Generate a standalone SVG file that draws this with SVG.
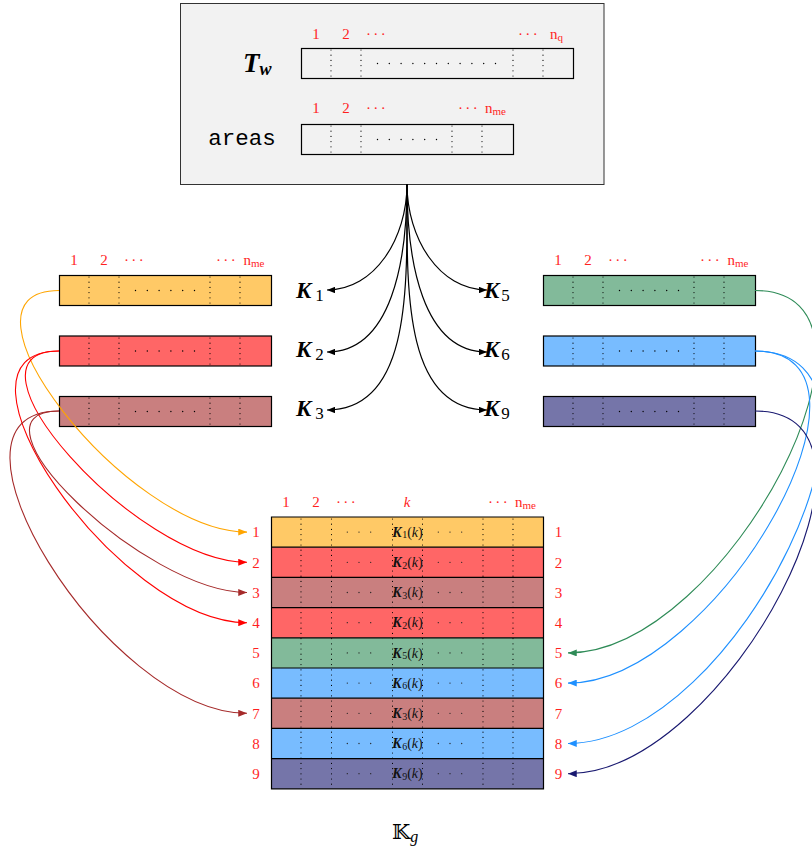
<svg xmlns="http://www.w3.org/2000/svg" width="812" height="852" viewBox="0 0 812 852">
<style>
.lbl{font-family:"Liberation Serif",serif;font-size:15px;fill:#ff1f1f;text-anchor:middle}
.nl{font-family:"Liberation Serif",serif;font-size:15px;fill:#ff1f1f;text-anchor:start}
.cd{letter-spacing:2.4px}
.sub{font-size:11px}
.bar{stroke:#000;stroke-width:1.2}
.vd{stroke:#000;stroke-width:1.2;stroke-dasharray:0 5.2;stroke-linecap:round;fill:none}
.hd{stroke:#000;stroke-width:1.4;stroke-dasharray:0 11.8;stroke-linecap:round;fill:none}
.td{stroke:#222;stroke-width:1.3;stroke-dasharray:0 11.7;stroke-linecap:round;fill:none}
.kl{font-family:"Liberation Serif",serif;font-size:23px;font-weight:bold;font-style:italic;fill:#000}
.ks{font-size:17px;font-weight:normal;font-style:normal}
.kt{font-family:"Liberation Serif",serif;font-size:14px;fill:#111;text-anchor:middle}
.c{fill:none;stroke-width:1.1}
.yel{fill:#ffc966}.red{fill:#ff6666}.brn{fill:#c97f7f}.grn{fill:#82ba9a}.blu{fill:#78bcff}.pur{fill:#7575a9}
</style>
<defs>
<marker id="mk" viewBox="0 0 10 8" refX="10" refY="4" markerWidth="8" markerHeight="6.4" orient="auto" markerUnits="userSpaceOnUse"><path d="M0,0 L10,4 L0,8 Z" fill="#000"/></marker>
<marker id="mo" viewBox="0 0 10 8" refX="10" refY="4" markerWidth="9" markerHeight="7" orient="auto" markerUnits="userSpaceOnUse"><path d="M0,0 L10,4 L0,8 Z" fill="#ffa500"/></marker>
<marker id="mr" viewBox="0 0 10 8" refX="10" refY="4" markerWidth="9" markerHeight="7" orient="auto" markerUnits="userSpaceOnUse"><path d="M0,0 L10,4 L0,8 Z" fill="#ff0000"/></marker>
<marker id="mb" viewBox="0 0 10 8" refX="10" refY="4" markerWidth="9" markerHeight="7" orient="auto" markerUnits="userSpaceOnUse"><path d="M0,0 L10,4 L0,8 Z" fill="#a52a2a"/></marker>
<marker id="mg" viewBox="0 0 10 8" refX="10" refY="4" markerWidth="9" markerHeight="7" orient="auto" markerUnits="userSpaceOnUse"><path d="M0,0 L10,4 L0,8 Z" fill="#2e8b57"/></marker>
<marker id="md" viewBox="0 0 10 8" refX="10" refY="4" markerWidth="9" markerHeight="7" orient="auto" markerUnits="userSpaceOnUse"><path d="M0,0 L10,4 L0,8 Z" fill="#1e90ff"/></marker>
<marker id="mn" viewBox="0 0 10 8" refX="10" refY="4" markerWidth="9" markerHeight="7" orient="auto" markerUnits="userSpaceOnUse"><path d="M0,0 L10,4 L0,8 Z" fill="#191970"/></marker>
</defs>

<g id="source">
<rect x="180.5" y="3.5" width="423.5" height="181" fill="#f2f2f2" stroke="#333" stroke-width="1"/>
<text x="243" y="72" font-family="Liberation Serif,serif" font-size="27" font-weight="bold" font-style="italic">T<tspan font-size="18" dy="3">w</tspan></text>
<text x="242" y="145" font-family="Liberation Mono,monospace" font-size="22.5" text-anchor="middle">areas</text>
<text class="lbl" y="39"><tspan x="316">1</tspan><tspan x="346">2</tspan></text>
<text class="lbl cd" x="377" y="39">···</text>
<text class="lbl cd" x="529" y="39">···</text>
<text class="nl" x="550" y="39">n<tspan class="sub" dy="2">q</tspan></text>
<rect class="bar" x="301.5" y="48.5" width="272" height="30" fill="none"/>
<path class="vd" d="M331,50V78M361,50V78M513,50V78M543,50V78"/>
<path class="hd" d="M377.5,63.5H496"/>
<text class="lbl" y="113"><tspan x="316">1</tspan><tspan x="346">2</tspan></text>
<text class="lbl cd" x="377" y="113">···</text>
<text class="lbl cd" x="469" y="113">···</text>
<text class="nl" x="485" y="113">n<tspan class="sub" dy="2">me</tspan></text>
<rect class="bar" x="301.5" y="124.5" width="212" height="30" fill="none"/>
<path class="vd" d="M331,126V154M361,126V154M452,126V154M482,126V154"/>
<path class="hd" d="M377.5,139.5H437"/>
</g>

<g id="K1">
<text class="lbl" y="265"><tspan x="74">1</tspan><tspan x="104">2</tspan></text>
<text class="lbl cd" x="135" y="265">···</text>
<text class="lbl cd" x="227" y="265">···</text>
<text class="nl" x="243.5" y="265">n<tspan class="sub" dy="2">me</tspan></text>
<rect class="bar yel" x="59.5" y="275.5" width="212" height="30"/>
<path class="vd" d="M89,277V305M119,277V305M210,277V305M240,277V305"/>
<path class="hd" d="M135.5,290.5H195"/>
<text class="kl" x="296" y="298">K<tspan class="ks" dx="4" dy="3">1</tspan></text>
</g>
<g id="K2">
<rect class="bar red" x="59.5" y="336" width="212" height="30"/>
<path class="vd" d="M89,338V366M119,338V366M210,338V366M240,338V366"/>
<path class="hd" d="M135.5,351H195"/>
<text class="kl" x="296" y="357">K<tspan class="ks" dx="4" dy="3">2</tspan></text>
</g>
<g id="K3">
<rect class="bar brn" x="59.5" y="396.5" width="212" height="30"/>
<path class="vd" d="M89,398V426M119,398V426M210,398V426M240,398V426"/>
<path class="hd" d="M135.5,411.5H195"/>
<text class="kl" x="296" y="416">K<tspan class="ks" dx="4" dy="3">3</tspan></text>
</g>
<g id="K5">
<text class="lbl" y="265"><tspan x="558">1</tspan><tspan x="588">2</tspan></text>
<text class="lbl cd" x="619" y="265">···</text>
<text class="lbl cd" x="711" y="265">···</text>
<text class="nl" x="727.5" y="265">n<tspan class="sub" dy="2">me</tspan></text>
<rect class="bar grn" x="543.5" y="275.5" width="212" height="30"/>
<path class="vd" d="M573,277V305M603,277V305M694,277V305M724,277V305"/>
<path class="hd" d="M619.5,290.5H679"/>
<text class="kl" x="484" y="298">K<tspan class="ks" dx="2" dy="3">5</tspan></text>
</g>
<g id="K6">
<rect class="bar blu" x="543.5" y="336" width="212" height="30"/>
<path class="vd" d="M573,338V366M603,338V366M694,338V366M724,338V366"/>
<path class="hd" d="M619.5,351H679"/>
<text class="kl" x="484" y="357">K<tspan class="ks" dx="2" dy="3">6</tspan></text>
</g>
<g id="K9">
<rect class="bar pur" x="543.5" y="396.5" width="212" height="30"/>
<path class="vd" d="M573,398V426M603,398V426M694,398V426M724,398V426"/>
<path class="hd" d="M619.5,411.5H679"/>
<text class="kl" x="484" y="416">K<tspan class="ks" dx="2" dy="3">9</tspan></text>
</g>

<g id="Kg">
<text class="lbl" y="507"><tspan x="286">1</tspan><tspan x="316">2</tspan></text>
<text class="lbl cd" x="347" y="507">···</text>
<text class="lbl" x="407" y="507" font-style="italic">k</text>
<text class="lbl cd" x="499" y="507">···</text>
<text class="nl" x="515" y="507">n<tspan class="sub" dy="2">me</tspan></text>
<rect class="yel" x="271.5" y="517" width="272" height="30.2"/>
<rect class="red" x="271.5" y="547.2" width="272" height="30.2"/>
<rect class="brn" x="271.5" y="577.4" width="272" height="30.2"/>
<rect class="red" x="271.5" y="607.6" width="272" height="30.2"/>
<rect class="grn" x="271.5" y="637.8" width="272" height="30.2"/>
<rect class="blu" x="271.5" y="668" width="272" height="30.2"/>
<rect class="brn" x="271.5" y="698.2" width="272" height="30.2"/>
<rect class="blu" x="271.5" y="728.4" width="272" height="30.2"/>
<rect class="pur" x="271.5" y="758.6" width="272" height="30.2"/>
<path class="vd" d="M301,519V788M331.5,519V788M392.5,519V788M422.5,519V788M483,519V788M513,519V788"/>
<path d="M271.5,517H543.5V788.8H271.5ZM271.5,547.2H543.5M271.5,577.4H543.5M271.5,607.6H543.5M271.5,637.8H543.5M271.5,668H543.5M271.5,698.2H543.5M271.5,728.4H543.5M271.5,758.6H543.5" fill="none" stroke="#000" stroke-width="1.2"/>
<path class="td" d="M347.3,532.1H371M438.3,532.1H462M347.3,562.3H371M438.3,562.3H462M347.3,592.5H371M438.3,592.5H462M347.3,622.7H371M438.3,622.7H462M347.3,652.9H371M438.3,652.9H462M347.3,683.1H371M438.3,683.1H462M347.3,713.3H371M438.3,713.3H462M347.3,743.5H371M438.3,743.5H462M347.3,773.7H371M438.3,773.7H462"/>
<text class="kt" x="407.5" y="536.8"><tspan font-weight="bold" font-style="italic">K</tspan><tspan font-size="10" dx="0.5" dy="1.5">1</tspan><tspan dy="-1.5">(</tspan><tspan font-style="italic">k</tspan>)</text>
<text class="kt" x="407.5" y="567"><tspan font-weight="bold" font-style="italic">K</tspan><tspan font-size="10" dx="0.5" dy="1.5">2</tspan><tspan dy="-1.5">(</tspan><tspan font-style="italic">k</tspan>)</text>
<text class="kt" x="407.5" y="597.2"><tspan font-weight="bold" font-style="italic">K</tspan><tspan font-size="10" dx="0.5" dy="1.5">3</tspan><tspan dy="-1.5">(</tspan><tspan font-style="italic">k</tspan>)</text>
<text class="kt" x="407.5" y="627.4"><tspan font-weight="bold" font-style="italic">K</tspan><tspan font-size="10" dx="0.5" dy="1.5">2</tspan><tspan dy="-1.5">(</tspan><tspan font-style="italic">k</tspan>)</text>
<text class="kt" x="407.5" y="657.6"><tspan font-weight="bold" font-style="italic">K</tspan><tspan font-size="10" dx="0.5" dy="1.5">5</tspan><tspan dy="-1.5">(</tspan><tspan font-style="italic">k</tspan>)</text>
<text class="kt" x="407.5" y="687.8"><tspan font-weight="bold" font-style="italic">K</tspan><tspan font-size="10" dx="0.5" dy="1.5">6</tspan><tspan dy="-1.5">(</tspan><tspan font-style="italic">k</tspan>)</text>
<text class="kt" x="407.5" y="718"><tspan font-weight="bold" font-style="italic">K</tspan><tspan font-size="10" dx="0.5" dy="1.5">3</tspan><tspan dy="-1.5">(</tspan><tspan font-style="italic">k</tspan>)</text>
<text class="kt" x="407.5" y="748.2"><tspan font-weight="bold" font-style="italic">K</tspan><tspan font-size="10" dx="0.5" dy="1.5">6</tspan><tspan dy="-1.5">(</tspan><tspan font-style="italic">k</tspan>)</text>
<text class="kt" x="407.5" y="778.4"><tspan font-weight="bold" font-style="italic">K</tspan><tspan font-size="10" dx="0.5" dy="1.5">9</tspan><tspan dy="-1.5">(</tspan><tspan font-style="italic">k</tspan>)</text>
<text class="lbl"><tspan x="256" y="537.3">1</tspan><tspan x="256" y="567.5">2</tspan><tspan x="256" y="597.7">3</tspan><tspan x="256" y="627.9">4</tspan><tspan x="256" y="658.1">5</tspan><tspan x="256" y="688.3">6</tspan><tspan x="256" y="718.5">7</tspan><tspan x="256" y="748.7">8</tspan><tspan x="256" y="778.9">9</tspan></text>
<text class="lbl"><tspan x="558.5" y="537.3">1</tspan><tspan x="558.5" y="567.5">2</tspan><tspan x="558.5" y="597.7">3</tspan><tspan x="558.5" y="627.9">4</tspan><tspan x="558.5" y="658.1">5</tspan><tspan x="558.5" y="688.3">6</tspan><tspan x="558.5" y="718.5">7</tspan><tspan x="558.5" y="748.7">8</tspan><tspan x="558.5" y="778.9">9</tspan></text>
<text x="392" y="839" font-family="DejaVu Serif,DejaVu Sans,serif" font-size="21">𝕂<tspan font-family="Liberation Serif,serif" font-style="italic" font-size="16" dy="3">g</tspan></text>
</g>

<g id="connectors">
<g stroke="#000" stroke-width="1.2" fill="none" marker-end="url(#mk)">
<path d="M407,184 C407,238 375,290 327,290"/>
<path d="M407,184 C407,260 392,352 327,352"/>
<path d="M407,184 C407,285 412,410 327,410"/>
<path d="M407,184 C407,238 439,290 487,290"/>
<path d="M407,184 C407,260 422,352 487,352"/>
<path d="M407,184 C407,285 402,410 487,410"/>
</g>
<path class="c" stroke="#ffa500" marker-end="url(#mo)" d="M59,290.5 C-61,290.5 127,532.1 247,532.1"/>
<path class="c" stroke="#ff0000" marker-end="url(#mr)" d="M59,351 C-51.6,351 136.4,562.3 247,562.3"/>
<path class="c" stroke="#ff0000" marker-end="url(#mr)" d="M59,351 C-70.4,351 117.6,622.7 247,622.7"/>
<path class="c" stroke="#a52a2a" marker-end="url(#mb)" d="M59,411 C-43.3,411 144.7,592.5 247,592.5"/>
<path class="c" stroke="#a52a2a" marker-end="url(#mb)" d="M59,411 C-80.4,411 107.6,713.3 247,713.3"/>
<path class="c" stroke="#2e8b57" marker-end="url(#mg)" d="M755,290.5 C914.8,290.5 727.8,652.9 568,652.9"/>
<path class="c" stroke="#1e90ff" marker-end="url(#md)" d="M755,351 C904.2,351 717.2,683.1 568,683.1"/>
<path class="c" stroke="#1e90ff" marker-end="url(#md)" d="M755,351 C925.2,351 738.2,743.5 568,743.5"/>
<path class="c" stroke="#191970" marker-end="url(#mn)" d="M755,411 C914.8,411 727.8,773.7 568,773.7"/>
</g>
</svg>
